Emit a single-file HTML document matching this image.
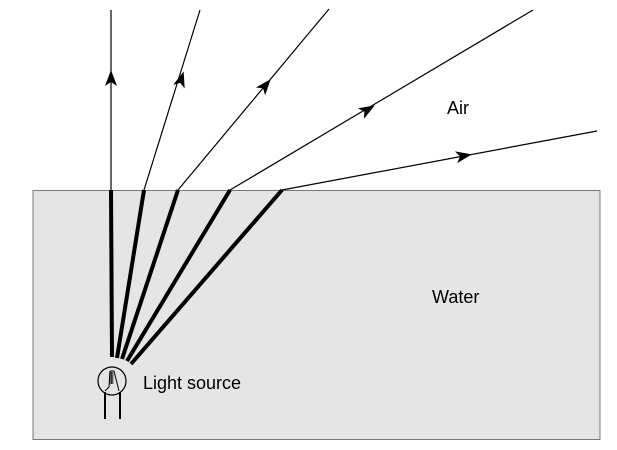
<!DOCTYPE html>
<html><head><style>body{margin:0;background:#fff}svg{display:block}</style></head><body>
<svg width="617" height="450" xmlns="http://www.w3.org/2000/svg">
<rect x="33" y="190.5" width="567" height="249" fill="#e5e5e5" stroke="#777" stroke-width="1"/>
<g stroke="#000" stroke-width="1.2" fill="none">
<line x1="111" y1="190" x2="111" y2="10"/>
<line x1="144" y1="190" x2="200" y2="10"/>
<line x1="178" y1="190" x2="329" y2="9"/>
<line x1="230" y1="190" x2="533" y2="10"/>
<line x1="282" y1="190" x2="597" y2="131"/>
</g>
<g stroke="#000" stroke-width="4" fill="none">
<line x1="111" y1="190" x2="112" y2="357"/>
<line x1="144" y1="190" x2="117" y2="358"/>
<line x1="178" y1="190" x2="122" y2="359"/>
<line x1="230" y1="190" x2="127" y2="361"/>
<line x1="282" y1="190" x2="131" y2="364"/>
</g>
<g fill="#000">
<path d="M0,-9 L6,7 L0,3 L-6,7Z" transform="translate(111,79)"/>
<path d="M0,-9 L6,7 L0,3 L-6,7Z" transform="translate(181,80) rotate(17.3)"/>
<path d="M0,-9 L6,7 L0,3 L-6,7Z" transform="translate(265,86) rotate(39.8)"/>
<path d="M0,-9 L6,7 L0,3 L-6,7Z" transform="translate(367,110) rotate(59.4)"/>
<path d="M0,-9 L6,7 L0,3 L-6,7Z" transform="translate(463,156) rotate(79.4)"/>
</g>
<circle cx="112" cy="381" r="14" fill="none" stroke="#000" stroke-width="1.2"/>
<g stroke="#000" stroke-width="2" fill="none">
<line x1="105" y1="392" x2="105" y2="419"/>
<line x1="120" y1="392" x2="120" y2="419"/>
</g>
<path d="M110,371 L114,371 L119,391 M110,371 L109,387 L105,391" stroke="#000" stroke-width="1" fill="none"/>
<path d="M110,372 l3,1 l-3,1 l3,1 l-3,1 l3,1 l-3,1 l3,1 l-3,1 l3,1 l-3,1 l3,1 l-3,1" stroke="#000" stroke-width="0.8" fill="none"/>
<g font-family="Liberation Sans, sans-serif" font-size="18" fill="#000">
<text x="447" y="114">Air</text>
<text x="432" y="303">Water</text>
<text x="143" y="389">Light source</text>
</g>
</svg>
</body></html>
